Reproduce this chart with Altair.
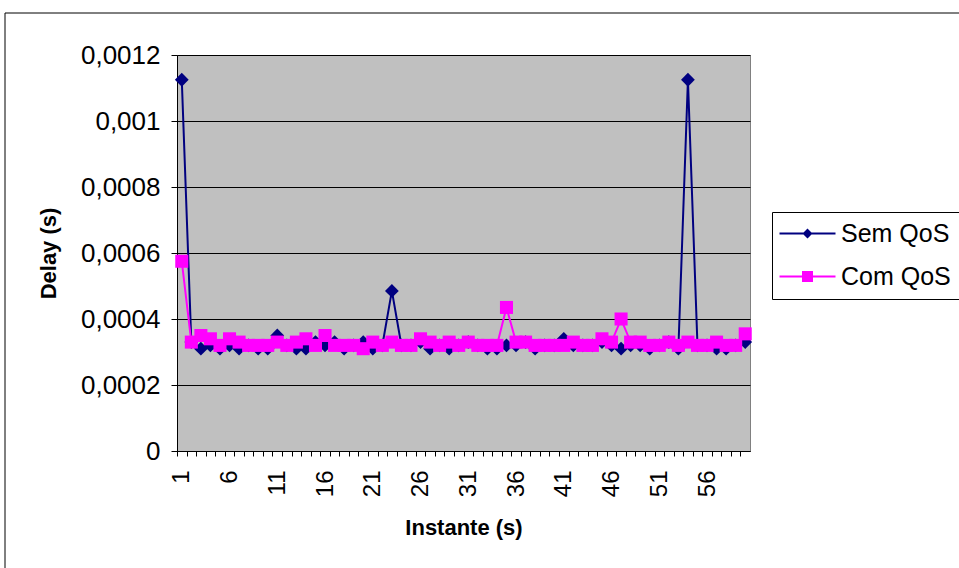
import altair as alt
import pandas as pd

# ---------------- data ----------------
instants = list(range(1, 61))
sem_qos = [
    0.001125, 0.00033, 0.00031, 0.00032, 0.00031, 0.00032, 0.00031, 0.00032, 0.00031, 0.00031,
    0.00035, 0.00032, 0.00031, 0.00031, 0.00033, 0.00032, 0.00033, 0.00031, 0.00032, 0.00033,
    0.00031, 0.00032, 0.000485, 0.00032, 0.00032, 0.00033, 0.00031, 0.00032, 0.00031, 0.00032,
    0.00033, 0.00032, 0.00031, 0.00031, 0.00032, 0.00032, 0.00033, 0.00031, 0.00032, 0.00032,
    0.00034, 0.00032, 0.00032, 0.00032, 0.00033, 0.00032, 0.00031, 0.00032, 0.00032, 0.00031,
    0.00032, 0.00033, 0.00031, 0.001125, 0.00032, 0.00032, 0.00031, 0.00031, 0.00032, 0.00033,
]
com_qos = [
    0.000575, 0.00033, 0.00035, 0.00034, 0.00032, 0.00034, 0.00033, 0.00032, 0.00032, 0.00032,
    0.00033, 0.00032, 0.00033, 0.00034, 0.00032, 0.00035, 0.00032, 0.00032, 0.00032, 0.00031,
    0.00033, 0.00032, 0.00033, 0.00032, 0.00032, 0.00034, 0.00033, 0.00032, 0.00033, 0.00032,
    0.00033, 0.00032, 0.00032, 0.00032, 0.000435, 0.00033, 0.00033, 0.00032, 0.00032, 0.00032,
    0.00032, 0.00033, 0.00032, 0.00032, 0.00034, 0.00033, 0.0004, 0.00033, 0.00033, 0.00032,
    0.00032, 0.00033, 0.00032, 0.00033, 0.00032, 0.00032, 0.00033, 0.00032, 0.00032, 0.000355,
]
series_names = ["Sem QoS", "Com QoS"]
series_colors = ["#000080", "#FF00FF"]
y_ticks = [0, 0.0002, 0.0004, 0.0006, 0.0008, 0.001, 0.0012]

df = pd.DataFrame({
    "t": instants + instants,
    "delay": sem_qos + com_qos,
    "series": [series_names[0]] * len(sem_qos) + [series_names[1]] * len(com_qos),
})

# ---------------- layout ----------------
FONT = "Liberation Sans"
W, H = 573, 396
PAD_L, PAD_T = 177, 55
STEP = W / len(instants)

x_enc = alt.X(
    "t:O",
    scale=alt.Scale(type="point", padding=0.5),
    title="Instante (s)",
    axis=alt.Axis(
        labelExpr="(datum.value - 1) % 5 == 0 ? datum.label : ''",
        labelOverlap=False,
        labelAngle=-90,
        labelFont=FONT, labelFontSize=24, labelColor="black",
        labelPadding=14,
        tickSize=5, tickColor="black", tickWidth=1,
        tickOffset=-STEP / 2, labelOffset=STEP / 2,
        domainColor="black", domainWidth=1,
        grid=False,
        titleFont=FONT, titleFontSize=22, titleFontWeight="bold", titleColor="black",
        titlePadding=21,
    ),
)
y_enc = alt.Y(
    "delay:Q",
    scale=alt.Scale(domain=[0, 0.0012], nice=False, zero=True),
    title="Delay (s)",
    axis=alt.Axis(
        values=y_ticks,
        labelExpr="replace(format(datum.value, '.4~f'), '.', ',')",
        labelFont=FONT, labelFontSize=26, labelColor="black",
        labelPadding=11,
        tickSize=6, tickColor="black",
        domainColor="black", domainWidth=1,
        grid=True, gridColor="black", gridWidth=1,
        titleFont=FONT, titleFontSize=22, titleFontWeight="bold", titleColor="black",
        titlePadding=20,
    ),
)

base = alt.Chart(df)

sem = base.transform_filter(alt.datum.series == series_names[0])
com = base.transform_filter(alt.datum.series == series_names[1])

sem_line = sem.mark_line(color=series_colors[0], strokeWidth=2).encode(x=x_enc, y=y_enc)
sem_pts = sem.mark_point(shape="diamond", filled=True, size=190, opacity=1,
                         color=series_colors[0]).encode(x=x_enc, y=y_enc)
com_line = com.mark_line(color=series_colors[1], strokeWidth=2).encode(x=x_enc, y=y_enc)
com_pts = com.mark_point(shape="square", filled=True, size=170, opacity=1,
                         color=series_colors[1]).encode(x=x_enc, y=y_enc)

# legend symbols: line segment + marker (custom paths, 10 px per unit at size 400)
path_d = "M-2.8,-0.1H2.8V0.1H-2.8Z M0,-0.5L0.5,0L0,0.5L-0.5,0Z"
path_s = "M-2.8,-0.1H2.8V0.1H-2.8Z M-0.55,-0.55H0.55V0.55H-0.55Z"
leg = alt.Legend(
    title=None, orient="none", legendX=595, legendY=157,
    symbolSize=400, symbolStrokeWidth=0, symbolOpacity=1, symbolOffset=14,
    labelFont=FONT, labelFontSize=25, labelColor="black", labelOffset=21,
    strokeColor="black", fillColor="white", padding=9, rowPadding=17,
)
legend_layer = base.transform_filter("false").mark_point(filled=True, opacity=1).encode(
    x=x_enc, y=y_enc,
    color=alt.Color("series:N", scale=alt.Scale(domain=series_names, range=series_colors), legend=leg),
    shape=alt.Shape("series:N", scale=alt.Scale(domain=series_names, range=[path_d, path_s]), legend=leg),
)

frame = alt.Chart(pd.DataFrame({"k": [0]})).mark_rect(
    fill="transparent", stroke="black", strokeWidth=1, clip=False
).encode(
    x=alt.value(5 - PAD_L), x2=alt.value(962 - PAD_L),
    y=alt.value(13 - PAD_T), y2=alt.value(572 - PAD_T),
)

chart = alt.layer(frame, sem_line, sem_pts, com_line, com_pts, legend_layer).properties(
    width=W, height=H,
    autosize=alt.AutoSizeParams(type="none"),
    padding={"left": PAD_L, "top": PAD_T, "right": 959 - PAD_L - W, "bottom": 568 - PAD_T - H},
    background="white",
).configure_view(fill="#C0C0C0", stroke="#808080", strokeWidth=1)

chart.save("out.html", embed_options={"renderer": "svg", "actions": False})
